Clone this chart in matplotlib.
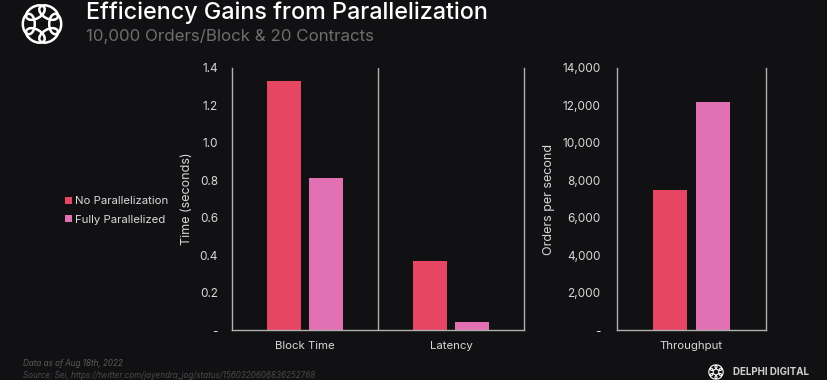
import numpy as np
import matplotlib
matplotlib.use("Agg")
import matplotlib.pyplot as plt
from matplotlib.patches import Ellipse

# data
series = ["No Parallelization", "Fully Parallelized"]
time_categories = ["Block Time", "Latency"]
time_no_par = [1.33, 0.37]
time_full_par = [0.81, 0.045]
tp_categories = ["Throughput"]
tp_no_par = [7500]
tp_full_par = [12200]
time_ticks = [0, 0.2, 0.4, 0.6, 0.8, 1.0, 1.2, 1.4]
tp_ticks = [0, 2000, 4000, 6000, 8000, 10000, 12000, 14000]

BG = "#111113"
RED = "#e64662"
PINK = "#e171b3"
SPINE = "#b0b0b0"
TXT = "#d8d8d8"

plt.rcParams["font.family"] = ["Inter", "DejaVu Sans"]

W, H = 828, 380
fig = plt.figure(figsize=(W / 100, H / 100), dpi=100, facecolor=BG)


def px_axes(x0, y_top, x1, y_bot):
    return fig.add_axes([x0 / W, 1 - y_bot / H, (x1 - x0) / W, (y_bot - y_top) / H])


def style(ax):
    ax.set_facecolor(BG)
    for s in ["left", "bottom", "right"]:
        ax.spines[s].set_color(SPINE)
        ax.spines[s].set_linewidth(1)
    ax.spines["top"].set_visible(False)
    ax.tick_params(length=0, colors=TXT, labelsize=8.5)
    ax.tick_params(axis="y", pad=10)
    ax.tick_params(axis="x", labelsize=8.2, pad=8)


bw = 0.23
off = 0.143

# left panel: time
ax1 = px_axes(232, 68, 524, 330)
style(ax1)
x = np.arange(len(time_categories))
ax1.bar(x - off, time_no_par, bw, color=RED, label=series[0])
ax1.bar(x + off, time_full_par, bw, color=PINK, label=series[1])
ax1.axvline(0.5, color=SPINE, lw=1)
ax1.set_xlim(-0.5, 1.5)
ax1.set_ylim(0, 1.4)
ax1.set_xticks(x)
ax1.set_xticklabels(time_categories)
ax1.set_yticks(time_ticks)
ax1.set_yticklabels(["-" if t == 0 else f"{t:.1f}" for t in time_ticks])
ax1.set_ylabel("Time (seconds)", color=TXT, fontsize=9, labelpad=5)

# right panel: throughput
ax2 = px_axes(617, 68, 766, 330)
style(ax2)
ax2.tick_params(axis="y", pad=12)
ax2.bar([0 - 0.144], tp_no_par, 0.225, color=RED)
ax2.bar([0 + 0.144], tp_full_par, 0.225, color=PINK)
ax2.set_xlim(-0.5, 0.5)
ax2.set_ylim(0, 14000)
ax2.set_xticks([0])
ax2.set_xticklabels(tp_categories)
ax2.set_yticks(tp_ticks)
ax2.set_yticklabels(["-" if t == 0 else f"{t:,}" for t in tp_ticks])
ax2.set_ylabel("Orders per second", color=TXT, fontsize=9, labelpad=5)

# legend
leg = fig.legend(loc="upper left", bbox_to_anchor=(55 / W, 1 - 186 / H), frameon=False,
                 fontsize=8.2, labelcolor=TXT, handlelength=0.55, handleheight=0.55,
                 handletextpad=0.3, labelspacing=0.75)

# titles
fig.text(86 / W, 1 - 13 / H, "Efficiency Gains from Parallelization", color="white",
         fontsize=16.8, fontweight="medium", va="center")
fig.text(86 / W, 1 - 36 / H, "10,000 Orders/Block & 20 Contracts", color="#6e6e6e",
         fontsize=12.2, va="center")

# footer
fig.text(23 / W, 1 - 364 / H, "Data as of Aug 18th, 2022", color="#5a5a5a",
         fontsize=5.8, style="italic", va="center")
fig.text(23 / W, 1 - 375 / H, "Source: Sei, https://twitter.com/jayendra_jog/status/1560320606836252768",
         color="#4a4a4a", fontsize=5.8, style="italic", va="center")
fig.text(733 / W, 1 - 372 / H, "DELPHI DIGITAL", color="#d0d0d0", fontsize=7,
         fontweight="bold", va="center")


# logo rings
def logo(cx, cy, r, lw):
    lax = px_axes(cx - r, cy - r, cx + r, cy + r)
    lax.set_xlim(-1, 1)
    lax.set_ylim(-1, 1)
    lax.axis("off")
    for k in range(6):
        a = k * np.pi / 3
        lax.add_patch(Ellipse((0.55 * np.cos(a), 0.55 * np.sin(a)), 0.85, 0.5,
                              angle=np.degrees(a) + 90, fill=False, ec="white", lw=lw))


logo(42, 24, 24, 1.8)
logo(716, 372, 9, 0.8)

fig.savefig("out.png", dpi=100, facecolor=BG)
